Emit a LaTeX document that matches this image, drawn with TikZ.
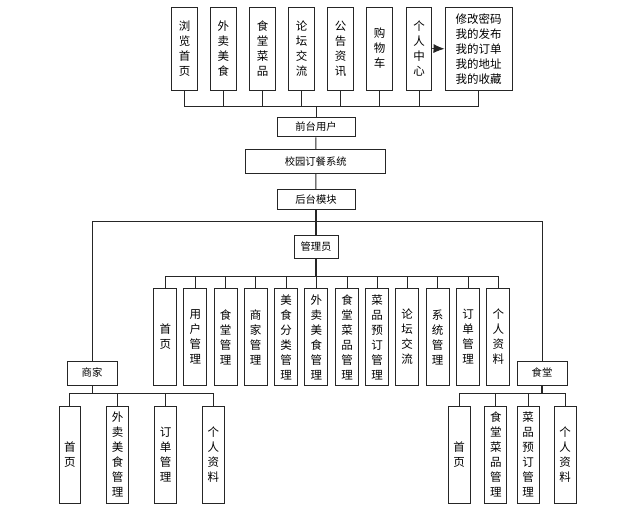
\documentclass[tikz,border=0pt]{standalone}
\usepackage{fontspec}
\newfontfamily\cjk{Noto Sans CJK SC}
\usetikzlibrary{arrows.meta}
\begin{document}
\begin{tikzpicture}[x=1pt,y=-1pt,
  box/.style={draw=black!85,line width=1pt,fill=white,inner sep=0pt,align=center,font=\cjk\fontsize{11.5}{15}\selectfont},
  vbox/.style={box,minimum width=23pt,minimum height=97pt},
  hbox/.style={box,font=\cjk\fontsize{10.3}{12}\selectfont},
  conn/.style={draw=black!85,line width=0.9pt}]
\useasboundingbox[fill=white] (0,0) rectangle (643,512);
% top row
\node[box,minimum width=25.5pt,minimum height=83pt] (t1) at (184.5,48.5) {浏\\览\\首\\页};
\node[box,minimum width=25.5pt,minimum height=83pt] (t2) at (223.3,48.5) {外\\卖\\美\\食};
\node[box,minimum width=25.5pt,minimum height=83pt] (t3) at (262.5,48.5) {食\\堂\\菜\\品};
\node[box,minimum width=25.5pt,minimum height=83pt] (t4) at (301.5,48.5) {论\\坛\\交\\流};
\node[box,minimum width=25.5pt,minimum height=83pt] (t5) at (340.5,48.5) {公\\告\\资\\讯};
\node[box,minimum width=25.5pt,minimum height=83pt] (t6) at (379.7,48.5) {购\\物\\车};
\node[box,minimum width=25.5pt,minimum height=83pt] (t7) at (419,48.5) {个\\人\\中\\心};
\node[box,minimum width=67.3pt,minimum height=83.5pt] (t8) at (478.7,48.8) {修改密码\\我的发布\\我的订单\\我的地址\\我的收藏};
\draw[conn,-{Latex[length=11pt,width=9pt]}] (t7.east) -- (t8.west);
% middle chain
\node[hbox,minimum width=78pt,minimum height=19.5pt] (fq) at (316,127) {前台用户};
\node[hbox,minimum width=140pt,minimum height=24pt] (xy) at (315.7,161.3) {校园订餐系统};
\node[hbox,minimum width=78pt,minimum height=20pt] (hm) at (316,199.3) {后台模块};
\node[hbox,minimum width=44pt,minimum height=23pt] (gly) at (316,246.5) {管理员};
\node[hbox,minimum width=50pt,minimum height=24pt] (sj) at (92,373) {商家};
\node[hbox,minimum width=50pt,minimum height=24pt] (st) at (542,373) {食堂};
% top bus
\coordinate (tb) at (316,106);
\draw[conn] (t1.south) -- (t1.south |- tb) -- (t8.south |- tb) -- (t8.south);
\foreach \n in {t2,t3,t4,t5,t6,t7} \draw[conn] (\n.south) -- (\n.south |- tb);
\draw[conn] (fq.north) -- (fq.north |- tb);
\draw[conn] (fq) -- (xy);
\draw[conn] (xy) -- (hm);
\draw[conn,line width=1.4pt] (hm) -- (gly);
\coordinate (mb) at (316,221.7);
\draw[conn] (sj.north) -- (sj.north |- mb) -- (st.north |- mb) -- (st.north);
% admin children
\node[vbox] (a1) at (165.3,337) {首\\页};
\node[vbox] (a2) at (195.3,337) {用\\户\\管\\理};
\node[vbox] (a3) at (225.7,337) {食\\堂\\管\\理};
\node[vbox] (a4) at (255.7,337) {商\\家\\管\\理};
\node[vbox] (a5) at (286,337) {美\\食\\分\\类\\管\\理};
\node[vbox] (a6) at (316.3,337) {外\\卖\\美\\食\\管\\理};
\node[vbox] (a7) at (347,337) {食\\堂\\菜\\品\\管\\理};
\node[vbox] (a8) at (377,337) {菜\\品\\预\\订\\管\\理};
\node[vbox] (a9) at (407,337) {论\\坛\\交\\流};
\node[vbox] (a10) at (437.7,337) {系\\统\\管\\理};
\node[vbox] (a11) at (468,337) {订\\单\\管\\理};
\node[vbox] (a12) at (498.3,337) {个\\人\\资\\料};
\coordinate (ab) at (316,276);
\draw[conn,line width=1.4pt] (gly.south) -- (gly.south |- ab);
\draw[conn] (a1.north) -- (a1.north |- ab) -- (a12.north |- ab) -- (a12.north);
\foreach \n in {a2,a3,a4,a5,a6,a7,a8,a9,a10,a11} \draw[conn] (\n.north) -- (\n.north |- ab);
% shangjia children
\node[vbox,minimum width=21.5pt] (s1) at (69.8,454.7) {首\\页};
\node[vbox,minimum width=21.5pt] (s2) at (117.7,454.7) {外\\卖\\美\\食\\管\\理};
\node[vbox,minimum width=21.5pt] (s3) at (165.7,454.7) {订\\单\\管\\理};
\node[vbox,minimum width=21.5pt] (s4) at (213.3,454.7) {个\\人\\资\\料};
\coordinate (sb) at (92,393.7);
\draw[conn] (sj.south) -- (sj.south |- sb);
\draw[conn] (s1.north) -- (s1.north |- sb) -- (s4.north |- sb) -- (s4.north);
\foreach \n in {s2,s3} \draw[conn] (\n.north) -- (\n.north |- sb);
% shitang children
\node[vbox,minimum width=22pt] (c1) at (459,454.7) {首\\页};
\node[vbox,minimum width=22pt] (c2) at (495.8,454.7) {食\\堂\\菜\\品\\管\\理};
\node[vbox,minimum width=22pt] (c3) at (528.2,454.7) {菜\\品\\预\\订\\管\\理};
\node[vbox,minimum width=22pt] (c4) at (565.2,454.7) {个\\人\\资\\料};
\coordinate (cb) at (542,393.7);
\draw[conn,line width=1.4pt] (st.south) -- (st.south |- cb);
\draw[conn] (c1.north) -- (c1.north |- cb) -- (c4.north |- cb) -- (c4.north);
\foreach \n in {c2,c3} \draw[conn] (\n.north) -- (\n.north |- cb);
\end{tikzpicture}
\end{document}
